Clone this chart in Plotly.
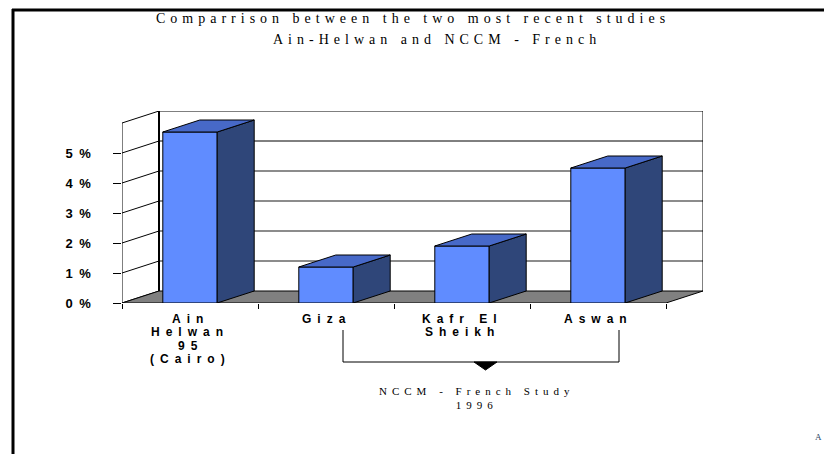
import plotly.graph_objects as go

# ---- data -------------------------------------------------------------
categories = ["Ain Helwan 95 (Cairo)", "Giza", "Kafr El Sheikh", "Aswan"]
category_lines = [["Ain", "Helwan", "95", "(Cairo)"], ["Giza"], ["Kafr El", "Sheikh"], ["Aswan"]]
prevalence_pct = [5.7, 1.2, 1.9, 4.5]
y_tick_values = [0, 1, 2, 3, 4, 5]
y_tick_labels = ["0 %", "1 %", "2 %", "3 %", "4 %", "5 %"]
y_max = 6

# ---- geometry of the pseudo-3D box (in axis units) ----------------------
W, H = 824, 454
PX_PER_CAT = 136.0
PX_PER_PCT = 30.0
DX = 37.0 / PX_PER_CAT      # depth offset along x
DY = 12.0 / PX_PER_PCT      # depth offset along y
BAR_W = 0.4
X0, X1 = -0.5, len(categories) - 0.5
L = 122
T = 111
plot_w = (X1 + DX - X0) * PX_PER_CAT
plot_h = (y_max + DY) * PX_PER_PCT
R = W - L - plot_w
B = H - T - plot_h

FRONT = "#608CFF"
TOP = "#4769C8"
SIDE = "#2F4679"
FLOOR = "#808080"


def spaced(text, ls):
    return f'<span style="letter-spacing:{ls}px">{text}</span>'


def px(xp):
    return (xp - L) / plot_w


def py(yp):
    return (H - B - yp) / plot_h


fig = go.Figure()
shapes = []

# back wall gridlines
for k in range(1, y_max):
    dark = k == y_max - 1
    shapes.append(dict(type="line", xref="x", yref="y", layer="below",
                       x0=X0 + DX, x1=X1 + DX, y0=k + DY, y1=k + DY,
                       line=dict(color="#000000" if dark else "#8C8C8C",
                                 width=1 if dark else 2)))
# side wall diagonals
for k in range(0, y_max + 1):
    shapes.append(dict(type="line", xref="x", yref="y", layer="below",
                       x0=X0, x1=X0 + DX, y0=k, y1=k + DY,
                       line=dict(color="#000000", width=1)))
# floor
shapes.append(dict(type="path", xref="x", yref="y", layer="below",
                   path=f"M{X0},0 L{X1},0 L{X1 + DX},{DY} L{X0 + DX},{DY} Z",
                   fillcolor=FLOOR, line=dict(color="#000000", width=1)))
# wall outlines
shapes += [
    dict(type="line", xref="x", yref="y", layer="below", x0=X0, x1=X0, y0=0, y1=y_max,
         line=dict(color="#000000", width=1)),
    dict(type="line", xref="x", yref="y", layer="below", x0=X0 + DX, x1=X0 + DX,
         y0=DY, y1=y_max + DY, line=dict(color="#000000", width=2)),
    dict(type="line", xref="x", yref="y", layer="below", x0=X0 + DX, x1=X1 + DX,
         y0=y_max + DY, y1=y_max + DY, line=dict(color="#000000", width=1)),
    dict(type="line", xref="x", yref="y", layer="below", x0=X1 + DX, x1=X1 + DX,
         y0=DY, y1=y_max + DY, line=dict(color="#000000", width=1)),
]

# bar front faces
xs = list(range(len(categories)))
fig.add_trace(go.Bar(x=xs, y=prevalence_pct, width=BAR_W, marker=dict(color=FRONT,
                     line=dict(color="#000000", width=1)), hoverinfo="skip"))

# side and top faces computed from the values
for i, v in enumerate(prevalence_pct):
    xl, xr = i - BAR_W / 2, i + BAR_W / 2
    fig.add_trace(go.Scatter(
        x=[xr, xr + DX, xr + DX, xr, xr], y=[0, DY, v + DY, v, 0],
        mode="lines", fill="toself", fillcolor=SIDE,
        line=dict(color="#000000", width=1), hoverinfo="skip"))
    fig.add_trace(go.Scatter(
        x=[xl, xr, xr + DX, xl + DX, xl], y=[v, v, v + DY, v + DY, v],
        mode="lines", fill="toself", fillcolor=TOP,
        line=dict(color="#000000", width=1), hoverinfo="skip"))

# slide frame
shapes += [
    dict(type="line", xref="paper", yref="paper", x0=px(13), x1=px(13), y0=py(9), y1=py(460),
         line=dict(color="#000000", width=3)),
    dict(type="line", xref="paper", yref="paper", x0=px(12), x1=px(830), y0=py(10), y1=py(10),
         line=dict(color="#000000", width=3)),
]
# bracket grouping the NCCM study regions
shapes += [
    dict(type="path", xref="paper", yref="paper",
         path=f"M{px(343)},{py(330)} L{px(343)},{py(362)} L{px(619)},{py(362)} L{px(619)},{py(330)}",
         line=dict(color="#000000", width=1)),
    dict(type="path", xref="paper", yref="paper",
         path=f"M{px(474)},{py(362)} L{px(497)},{py(362)} L{px(485.5)},{py(370)} Z",
         fillcolor="#000000", line=dict(color="#000000", width=1)),
]

serif = dict(family="Liberation Serif", size=14, color="#000000")
annotations = [
    dict(text=spaced("Comparrison between the two most recent studies", 5),
         x=px(413), y=py(19), xref="paper", yref="paper", showarrow=False,
         xanchor="center", yanchor="middle", font=serif),
    dict(text=spaced("Ain-Helwan and NCCM - French", 5),
         x=px(437), y=py(40), xref="paper", yref="paper", showarrow=False,
         xanchor="center", yanchor="middle", font=serif),
    dict(text=spaced("NCCM - French Study", 5) + "<br>" + spaced("1996", 5),
         x=px(477), y=py(398), xref="paper", yref="paper", showarrow=False,
         xanchor="center", yanchor="middle",
         font=dict(family="Liberation Serif", size=11, color="#000000")),
    dict(text="A", x=px(824), y=py(437), xref="paper", yref="paper", showarrow=False,
         xanchor="right", yanchor="middle", font=dict(family="Liberation Serif", size=9)),
]

# category labels, one line each, under the category centres
LINE_STEP = 13.3
for i, lines in enumerate(category_lines):
    for j, line in enumerate(lines):
        annotations.append(dict(
            text=spaced(line, 6), x=i, xref="x", yref="paper",
            y=py(319 + j * LINE_STEP), showarrow=False, xanchor="center", yanchor="middle",
            font=dict(family="Liberation Sans", size=12, color="#000000", weight="bold")))

fig.update_layout(
    width=W, height=H, margin=dict(l=L, r=R, t=T, b=B, autoexpand=False),
    paper_bgcolor="#FFFFFF", plot_bgcolor="rgba(0,0,0,0)",
    showlegend=False, shapes=shapes, annotations=annotations,
    xaxis=dict(range=[X0, X1 + DX], tickvals=xs, ticktext=categories, ticks="",
               showticklabels=False,
               showgrid=False, zeroline=False, showline=False, fixedrange=True,
               minor=dict(tickvals=[X0 + k for k in range(len(categories) + 1)],
                          ticks="outside", ticklen=5, tickcolor="#000000", tickwidth=1)),
    yaxis=dict(range=[0, y_max + DY], tickvals=y_tick_values,
               ticktext=[spaced(t, 1.5) for t in y_tick_labels],
               ticks="outside", ticklen=8, tickcolor="#000000", tickwidth=1,
               showgrid=False, zeroline=False, showline=False, fixedrange=True,
               ticklabelstandoff=18,
               tickfont=dict(family="Liberation Sans", size=13, color="#000000", weight="bold")),
)

fig.write_html("out.html", config=dict(displayModeBar=False))
